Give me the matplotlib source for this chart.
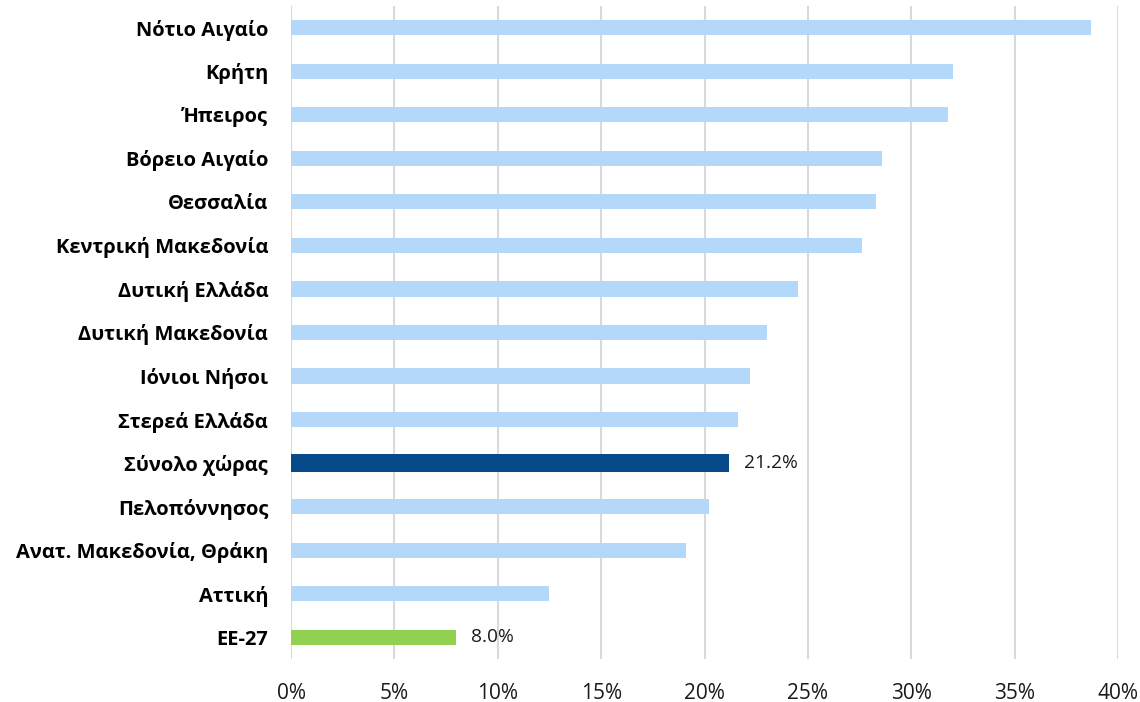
import numpy as np
import matplotlib
matplotlib.use('Agg')
import matplotlib.pyplot as plt
from matplotlib.ticker import FuncFormatter

plt.rcParams['font.family'] = ['Open Sans', 'DejaVu Sans']

# Regions (top to bottom) and their shares in %
regions = ['Νότιο Αιγαίο', 'Κρήτη', 'Ήπειρος', 'Βόρειο Αιγαίο', 'Θεσσαλία',
           'Κεντρική Μακεδονία', 'Δυτική Ελλάδα', 'Δυτική Μακεδονία',
           'Ιόνιοι Νήσοι', 'Στερεά Ελλάδα', 'Σύνολο χώρας', 'Πελοπόννησος',
           'Ανατ. Μακεδονία, Θράκη', 'Αττική', 'ΕΕ-27']
values = [38.7, 32.0, 31.8, 28.6, 28.3, 27.6, 24.5, 23.0, 22.2, 21.6,
          21.2, 20.2, 19.1, 12.5, 8.0]
xticks = [0, 5, 10, 15, 20, 25, 30, 35, 40]

light = '#B4D8FA'
dark = '#064A8A'
green = '#92D050'

colors = []
heights = []
for r in regions:
    if r == 'Σύνολο χώρας':
        colors.append(dark)
        heights.append(0.40)
    elif r == 'ΕΕ-27':
        colors.append(green)
        heights.append(0.34)
    else:
        colors.append(light)
        heights.append(0.35)

fig = plt.figure(figsize=(11.4, 7.02), dpi=100)
ax = fig.add_axes([0.2553, 0.0613, 0.7254, 0.9302])

y = np.arange(len(regions))
ax.barh(y, values, height=heights, color=colors, zorder=3)

# data labels for the highlighted bars
for i, r in enumerate(regions):
    if r in ('Σύνολο χώρας', 'ΕΕ-27'):
        ax.annotate(f'{values[i]:.1f}%', (values[i], y[i]), xytext=(15, 0),
                    textcoords='offset pixels', va='center', ha='left',
                    fontsize=13.8, color='#1a1a1a', zorder=4)

ax.set_xlim(0, 40)
ax.set_ylim(len(regions) - 0.5, -0.5)
ax.set_xticks(xticks)
ax.xaxis.set_major_formatter(FuncFormatter(lambda v, p: f'{v:.0f}%'))
ax.set_yticks(y)
ax.set_yticklabels(regions, fontweight='bold', fontsize=14.5)
ax.tick_params(axis='y', length=0, pad=16.5)
ax.tick_params(axis='x', length=0, pad=17, labelsize=15)
for lab in ax.get_xticklabels():
    lab.set_color('#1a1a1a')

ax.grid(axis='x', color='#D9D9D9', linewidth=1.5, zorder=0)
ax.grid(axis='y', visible=False)
for s in ax.spines.values():
    s.set_visible(False)

plt.savefig('out.png', dpi=100)
